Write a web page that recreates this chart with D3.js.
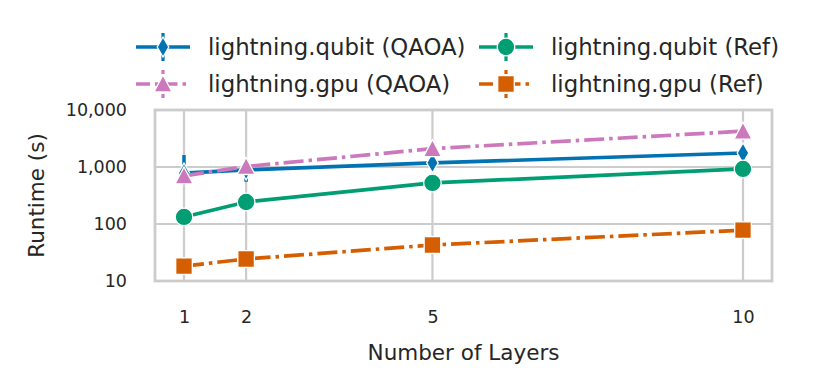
<!DOCTYPE html>
<html>
<head>
<meta charset="utf-8">
<script src="https://cdn.jsdelivr.net/npm/d3@7"></script>
<style>
  body { margin: 0; background: #fff; }
  text { font-family: "DejaVu Sans", sans-serif; fill: #262626; }
</style>
</head>
<body>
<div id="chart"></div>
<script>
// Data
const layers = [1, 2, 5, 10];
const yTicks = [10, 100, 1000, 10000];

const qubitQAOA = [780, 890, 1180, 1760];
const qubitQAOALo = [500, 550, 1000, 1550];
const qubitQAOAHi = [1620, 1300, 1380, 2000];
const gpuQAOA = [700, 1020, 2100, 4250];
const qubitRef = [133, 243, 525, 925];
const gpuRef = [18.3, 24.3, 42.8, 78];

const series = [
    { name: 'lightning.qubit (QAOA)', values: qubitQAOA, lo: qubitQAOALo, hi: qubitQAOAHi, color: '#0173b2', dash: null, marker: 'diamond' },
    { name: 'lightning.gpu (QAOA)', values: gpuQAOA, color: '#cc78bc', dash: '20,5,3.5,5', marker: 'triangle' },
    { name: 'lightning.qubit (Ref)', values: qubitRef, color: '#029e73', dash: null, marker: 'circle' },
    { name: 'lightning.gpu (Ref)', values: gpuRef, color: '#d55e00', dash: '20,5,3.5,5', marker: 'square' }
];

const W = 813, H = 390;
const plot = { left: 155, right: 772, top: 110, bottom: 281 };

const svg = d3.select('#chart')
    .append('svg')
    .attr('width', W)
    .attr('height', H);

const x = d3.scaleLinear()
    .domain([0.533, 10.467])
    .range([plot.left, plot.right]);

const y = d3.scaleLog()
    .domain([10, 10000])
    .range([plot.bottom, plot.top]);

// grid
svg.append('g')
    .selectAll('line')
    .data(layers)
    .enter()
    .append('line')
    .attr('x1', d => x(d)).attr('x2', d => x(d))
    .attr('y1', plot.top).attr('y2', plot.bottom)
    .attr('stroke', '#cccccc').attr('stroke-width', 2.2);

svg.append('g')
    .selectAll('line')
    .data(yTicks)
    .enter()
    .append('line')
    .attr('x1', plot.left).attr('x2', plot.right)
    .attr('y1', d => y(d)).attr('y2', d => y(d))
    .attr('stroke', '#cccccc').attr('stroke-width', 2.2);

svg.append('rect')
    .attr('x', plot.left).attr('y', plot.top)
    .attr('width', plot.right - plot.left)
    .attr('height', plot.bottom - plot.top)
    .attr('fill', 'none')
    .attr('stroke', '#cccccc')
    .attr('stroke-width', 2.8);

// axes (labels only)
const xAxis = svg.append('g')
    .attr('transform', `translate(0,${plot.bottom + 30})`)
    .call(d3.axisBottom(x).tickValues(layers).tickSize(0).tickPadding(0).tickFormat(d3.format('d')));
xAxis.select('.domain').remove();
xAxis.selectAll('text')
    .style('font-family', '"DejaVu Sans", sans-serif')
    .style('font-size', '17.5px')
    .attr('fill', '#262626');

const yAxis = svg.append('g')
    .attr('transform', `translate(${plot.left - 28},0)`)
    .call(d3.axisLeft(y).tickValues(yTicks).tickSize(0).tickPadding(0).tickFormat(d3.format(',')));
yAxis.select('.domain').remove();
yAxis.selectAll('text')
    .style('font-family', '"DejaVu Sans", sans-serif')
    .style('font-size', '17.5px')
    .attr('fill', '#262626');

svg.append('text')
    .attr('x', (plot.left + plot.right) / 2)
    .attr('y', 360)
    .attr('text-anchor', 'middle')
    .style('font-size', '21.5px')
    .text('Number of Layers');

svg.append('text')
    .attr('transform', 'rotate(-90)')
    .attr('x', -(plot.top + plot.bottom) / 2)
    .attr('y', 44)
    .attr('text-anchor', 'middle')
    .style('font-size', '21.5px')
    .text('Runtime (s)');

// markers
function markerPath(type) {
    if (type === 'diamond') return 'M0,-10L5.8,0L0,10L-5.8,0Z';
    if (type === 'triangle') return 'M0,-9L9,8L-9,8Z';
    if (type === 'square') return 'M-8.3,-8.3H8.3V8.3H-8.3Z';
    return d3.symbol().type(d3.symbolCircle).size(Math.PI * 8.8 * 8.8)();
}

const line = d3.line()
    .x((d, i) => x(layers[i]))
    .y(d => y(d));

const marks = svg.append('g');
series.forEach(s => {
    const g = marks.append('g');
    if (s.lo) {
        g.selectAll('line.err')
            .data(layers)
            .enter()
            .append('line')
            .attr('class', 'err')
            .attr('x1', d => x(d)).attr('x2', d => x(d))
            .attr('y1', (d, i) => y(s.lo[i]))
            .attr('y2', (d, i) => y(s.hi[i]))
            .attr('stroke', s.color)
            .attr('stroke-width', 3.5);
    }
    g.append('path')
        .datum(s.values)
        .attr('d', line)
        .attr('fill', 'none')
        .attr('stroke', s.color)
        .attr('stroke-width', 3.7)
        .attr('stroke-dasharray', s.dash);
    g.selectAll('path.mk')
        .data(s.values)
        .enter()
        .append('path')
        .attr('class', 'mk')
        .attr('d', markerPath(s.marker))
        .attr('transform', (d, i) => `translate(${x(layers[i])},${y(d)})`)
        .attr('fill', s.color)
        .attr('stroke', '#fff')
        .attr('stroke-width', 1.3);
});

// legend, two columns filled column-wise
const legendPos = [
    { x: 136, y: 47 }, { x: 136, y: 84 },
    { x: 479, y: 47 }, { x: 479, y: 84 }
];
series.forEach((s, i) => {
    const p = legendPos[i];
    const g = svg.append('g').attr('transform', `translate(${p.x},${p.y})`);
    g.append('line')
        .attr('x1', 27).attr('x2', 27)
        .attr('y1', -14).attr('y2', 14)
        .attr('stroke', s.color)
        .attr('stroke-width', 3.2)
        .attr('stroke-dasharray', s.dash ? '4,4' : null);
    g.append('line')
        .attr('x1', 0).attr('x2', 54)
        .attr('y1', 0).attr('y2', 0)
        .attr('stroke', s.color)
        .attr('stroke-width', 3.7)
        .attr('stroke-dasharray', s.dash ? '14,5,3.5,5' : null);
    g.append('path')
        .attr('d', markerPath(s.marker))
        .attr('transform', 'translate(27,0)')
        .attr('fill', s.color)
        .attr('stroke', '#fff')
        .attr('stroke-width', 1.3);
    g.append('text')
        .attr('x', 72)
        .attr('y', 0)
        .attr('dy', '0.35em')
        .style('font-size', '22.8px')
        .text(s.name);
});
</script>
</body>
</html>
